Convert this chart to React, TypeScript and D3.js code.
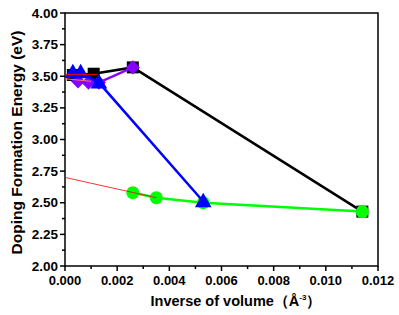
import React from "react";
import * as d3 from "d3";

const blackX = [0.0003, 0.0011, 0.0026, 0.0114];
const blackY = [3.51, 3.52, 3.57, 2.43];
const greenX = [0.0026, 0.0035, 0.0053, 0.0114];
const greenY = [2.58, 2.54, 2.5, 2.43];
const purpleX = [0.0005, 0.0009, 0.0013, 0.0026];
const purpleY = [3.46, 3.45, 3.45, 3.57];
const blueX = [0.0003, 0.0006, 0.0013, 0.0053];
const blueY = [3.53, 3.53, 3.45, 2.51];
const redFitX = [0, 0.0035];
const redFitY = [2.7, 2.54];
const redFlatX = [0, 0.00125];
const redFlatY = [3.515, 3.515];
const pinkFitX = [0, 0.001];
const pinkFitY = [3.48, 3.46];
const xTicks = [0, 0.002, 0.004, 0.006, 0.008, 0.01, 0.012];
const xTickLabels = ["0.000", "0.002", "0.004", "0.006", "0.008", "0.010", "0.012"];
const yTicks = [2.0, 2.25, 2.5, 2.75, 3.0, 3.25, 3.5, 3.75, 4.0];
const yTickLabels = ["2.00", "2.25", "2.50", "2.75", "3.00", "3.25", "3.50", "3.75", "4.00"];

const W = 399, H = 315;
const L = 65, R = 378, T = 13, B = 266;

export default function App() {
  const x = d3.scaleLinear().domain([0, 0.012]).range([L, R]);
  const y = d3.scaleLinear().domain([2, 4]).range([B, T]);
  const line = d3.line<[number, number]>().x(d => x(d[0])).y(d => y(d[1]));
  const pts = (xs: number[], ys: number[]) => xs.map((v, i) => [v, ys[i]] as [number, number]);
  const font = "'Liberation Sans', Arial, sans-serif";
  const sym = (type: d3.SymbolType, size: number) => d3.symbol().type(type).size(size)() as string;
  const xMinor = d3.range(0, 13).map(i => i * 0.001);
  const yMinor = d3.range(0, 17).map(i => 2 + i * 0.125);

  const series = (xs: number[], ys: number[], color: string, marker: (cx: number, cy: number, k: number) => React.ReactNode) => (
    <g>
      <path d={line(pts(xs, ys)) as string} fill="none" stroke={color} strokeWidth={2.5} />
      {xs.map((v, i) => marker(x(v), y(ys[i]), i))}
    </g>
  );

  return (
    <svg width={W} height={H} style={{ position: "absolute", left: 0, top: 0 }} fontFamily={font}>
      <rect width={W} height={H} fill="#fff" />
      <rect x={L} y={T} width={R - L} height={B - T} fill="none" stroke="#000" strokeWidth={1.5} />
      {xMinor.map((v, i) => (
        <line key={"xm" + i} x1={x(v)} x2={x(v)} y1={B} y2={B + (i % 2 === 0 ? 5 : 3)} stroke="#000" strokeWidth={1.5} />
      ))}
      {xTicks.map((v, i) => (
        <text key={"xt" + i} x={x(v)} y={B + 19} textAnchor="middle" fontSize={13} fontWeight="bold">{xTickLabels[i]}</text>
      ))}
      {yMinor.map((v, i) => (
        <line key={"ym" + i} x1={L} x2={L - (i % 2 === 0 ? 5 : 3)} y1={y(v)} y2={y(v)} stroke="#000" strokeWidth={1.5} />
      ))}
      {yTicks.map((v, i) => (
        <text key={"yt" + i} x={L - 7} y={y(v) + 4.5} textAnchor="end" fontSize={13.5} fontWeight="bold">{yTickLabels[i]}</text>
      ))}
      <text x={236} y={306} textAnchor="middle" fontSize={14.5} fontWeight="bold">
        Inverse of volume（Å<tspan dy={-6} fontSize={8}>-3</tspan><tspan dy={6}>）</tspan>
      </text>
      <text transform={`translate(22,${(T + B) / 2 + 3}) rotate(-90)`} textAnchor="middle" fontSize={15.5} fontWeight="bold">
        Doping Formation Energy (eV)
      </text>
      {series(blackX, blackY, "#000", (cx, cy, k) => (
        <rect key={"b" + k} x={cx - 6} y={cy - 6} width={12} height={12} fill="#000" />
      ))}
      {series(greenX, greenY, "#00ff00", (cx, cy, k) => (
        <circle key={"g" + k} cx={cx} cy={cy} r={6.5} fill="#00ff00" />
      ))}
      {series(purpleX, purpleY, "#8800ff", (cx, cy, k) => (
        <path key={"p" + k} d={sym(d3.symbolSquare, 100)} transform={`translate(${cx},${cy}) rotate(45)`} fill="#8800ff" />
      ))}
      {series(blueX, blueY, "#0000ff", (cx, cy, k) => (
        <path key={"t" + k} d={sym(d3.symbolTriangle, 120)} transform={`translate(${cx},${cy + 1})`} fill="#0000ff" />
      ))}
      <path d={line(pts(redFitX, redFitY)) as string} fill="none" stroke="#ff0000" strokeWidth={0.8} />
      <path d={line(pts(redFlatX, redFlatY)) as string} fill="none" stroke="#ff0000" strokeWidth={1} />
      <path d={line(pts(pinkFitX, pinkFitY)) as string} fill="none" stroke="#ff7070" strokeWidth={1} />
    </svg>
  );
}
